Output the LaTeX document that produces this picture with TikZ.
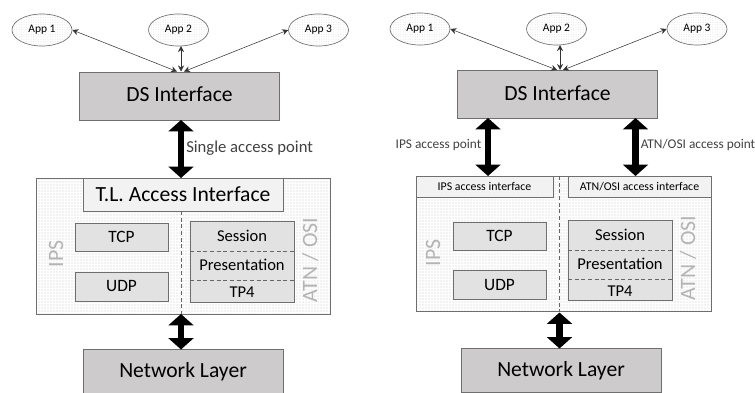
\documentclass[tikz,border=0pt]{standalone}
\usepackage{fontspec}
\setmainfont{Carlito}
\usetikzlibrary{arrows.meta,patterns.meta,shapes.geometric}
\definecolor{edge}{HTML}{6F6F6F}
\definecolor{layer}{HTML}{CDCBCC}
\definecolor{proto}{HTML}{E2E2E2}
\definecolor{access}{HTML}{F2F2F2}
\definecolor{wm}{HTML}{B4B4B4}
\tikzset{
  x=0.75pt,y=-0.75pt,
  dotted area/.style={draw=edge,line width=0.7pt,fill=white,postaction={pattern={Dots[distance=2.25pt,radius=0.36pt]},pattern color=black!60}},
  app/.style={ellipse,draw=edge,line width=0.5pt,inner sep=0pt,minimum width=45pt,minimum height=24pt,font=\fontsize{8.6}{10}\selectfont,fill=white,postaction={pattern={Dots[distance=1.8pt,radius=0.25pt]},pattern color=black!22}},
  layerbox/.style n args={2}{draw=edge,line width=0.7pt,fill=layer,inner sep=0pt,minimum width=#1*0.75pt,minimum height=#2*0.75pt,font=\fontsize{16.2}{19}\selectfont},
  accessbox/.style n args={2}{draw=edge,line width=0.7pt,fill=access,inner sep=0pt,minimum width=#1*0.75pt,minimum height=#2*0.75pt,font=\fontsize{16.2}{19}\selectfont},
  smallaccess/.style n args={2}{accessbox={#1}{#2},font=\fontsize{8.9}{10}\selectfont},
  protobox/.style n args={2}{draw=edge,line width=0.7pt,fill=proto,inner sep=0pt,minimum width=#1*0.75pt,minimum height=#2*0.75pt,font=\fontsize{13}{15}\selectfont},
  stackbox/.style n args={2}{draw=edge,line width=0.7pt,fill=proto,inner sep=0pt,minimum width=#1*0.75pt,minimum height=#2*0.75pt},
  stacktext/.style={inner sep=0pt,font=\fontsize{12.4}{15}\selectfont},
  wmark/.style={rotate=90,text=wm,inner sep=0pt,font=\fontsize{16.4}{19}\selectfont},
  note/.style={inner sep=0pt,text=black!75,font=\fontsize{12.5}{15}\selectfont},
  smallnote/.style={inner sep=0pt,text=black!75,font=\fontsize{10}{12}\selectfont},
  thin link/.style={{Stealth[length=4.5pt,width=4.5pt]}-{Stealth[length=4.5pt,width=4.5pt]},line width=0.4pt,black!80},
  fat link/.style={{Triangle[length=8.5pt,width=18.5pt]}-{Triangle[length=8.5pt,width=18.5pt]},line width=5.2pt,black},
  divider/.style={densely dashed,draw=black!60,line width=0.45pt},
  stack rule/.style={densely dashed,draw=black!60,line width=0.5pt},
}
\begin{document}
\begin{tikzpicture}
\useasboundingbox (0,0) rectangle (755,392);
% ---------- left ----------
\node[dotted area,minimum width=220.5pt,minimum height=102pt,inner sep=0pt] (lmain) at (183,246) {};
\node[accessbox={200}{33}] (ltl) at (183,194.5) {\raisebox{-1pt}{T.L. Access Interface}};
\coordinate (ldt) at (181.5,211);
\coordinate (ldb) at (181.5,314);
\draw[divider] (ldt) -- (ldb);
\node[layerbox={200}{48}] (lds) at (179.5,96) {\raisebox{2.2pt}{DS Interface}};
\node[app] (la1) at (42,30) {App 1};
\node[app] (la2) at (178.5,30) {App 2};
\node[app] (la3) at (318.5,30) {App 3};
\coordinate (lh1) at (177,71.5);
\coordinate (lh2) at (181,71.5);
\coordinate (lh3) at (184,71.5);
\coordinate (la2b) at (181,46);
\draw[thin link] (la1.east) -- (lh1);
\draw[thin link] (la2b) -- (lh2);
\draw[thin link] (la3.west) -- (lh3);
\node[protobox={93}{28}] (ltcp) at (121.5,237) {TCP};
\node[protobox={93}{29}] (ludp) at (121.5,286.5) {UDP};
\node[stackbox={104}{81}] (lst) at (242,261.5) {};
\coordinate (lr1a) at (190,251); \coordinate (lr1b) at (294,251);
\coordinate (lr2a) at (190,280); \coordinate (lr2b) at (294,280);
\draw[stack rule] (lr1a) -- (lr1b);
\draw[stack rule] (lr2a) -- (lr2b);
\node[stacktext] (ls1) at (242,236) {Session};
\node[stacktext] (ls2) at (242,265) {Presentation};
\node[stacktext] (ls3) at (242,292) {TP4};
\node[wmark] (lw1) at (56,254) {IPS};
\node[wmark] (lw2) at (310,260) {ATN / OSI};
\node[layerbox={200}{44}] (lnet) at (183,371.5) {Network Layer};
\coordinate (lfa) at (181,120);
\coordinate (lfb) at (181,178);
\coordinate (lfc) at (181,314);
\coordinate (lfd) at (181,349.5);
\draw[fat link] (lfa) -- (lfb);
\draw[fat link] (lfc) -- (lfd);
\node[note,anchor=west] (lnote) at (186,148.5) {Single access point};
% ---------- right ----------
\node[dotted area,minimum width=221.25pt,minimum height=101.6pt,inner sep=0pt] (rmain) at (563.5,243.75) {};
\node[smallaccess={137}{21}] (ria) at (484.5,186.5) {IPS access interface};
\node[smallaccess={143}{21}] (raa) at (639.5,186.5) {ATN/OSI access interface};
\coordinate (rdt) at (559.5,176);
\coordinate (rdb) at (559.5,311.5);
\draw[divider] (rdt) -- (rdb);
\node[layerbox={200}{48}] (rds) at (557.5,94.5) {\raisebox{2.2pt}{DS Interface}};
\node[app] (ra1) at (420,29) {App 1};
\node[app] (ra2) at (556.5,29) {App 2};
\node[app] (ra3) at (697,29) {App 3};
\coordinate (rh1) at (557,70);
\coordinate (rh2) at (560,70);
\coordinate (rh3) at (563,70);
\coordinate (ra2b) at (560,45);
\draw[thin link] (ra1.east) -- (rh1);
\draw[thin link] (ra2b) -- (rh2);
\draw[thin link] (ra3.west) -- (rh3);
\node[protobox={93}{28}] (rtcp) at (499.5,236) {TCP};
\node[protobox={93}{29}] (rudp) at (499.5,285) {UDP};
\node[stackbox={104.5}{80.5}] (rst) at (620.25,260.25) {};
\coordinate (rr1a) at (568,250); \coordinate (rr1b) at (672.5,250);
\coordinate (rr2a) at (568,279); \coordinate (rr2b) at (672.5,279);
\draw[stack rule] (rr1a) -- (rr1b);
\draw[stack rule] (rr2a) -- (rr2b);
\node[stacktext] (rs1) at (620,235) {Session};
\node[stacktext] (rs2) at (620,263.5) {Presentation};
\node[stacktext] (rs3) at (620,291) {TP4};
\node[wmark] (rw1) at (433,253) {IPS};
\node[wmark] (rw2) at (688,258) {ATN / OSI};
\node[layerbox={200}{44}] (rnet) at (561,370.5) {Network Layer};
\coordinate (rfa) at (488,118);
\coordinate (rfb) at (488,176);
\coordinate (rfc) at (635.5,118);
\coordinate (rfd) at (635.5,176);
\coordinate (rfe) at (559.5,312.5);
\coordinate (rff) at (559.5,348.5);
\draw[fat link] (rfa) -- (rfb);
\draw[fat link] (rfc) -- (rfd);
\draw[fat link] (rfe) -- (rff);
\node[smallnote,anchor=east] (rn1) at (481.5,145) {IPS access point};
\node[smallnote,anchor=west] (rn2) at (640.5,145) {ATN/OSI access point};
\end{tikzpicture}
\end{document}
